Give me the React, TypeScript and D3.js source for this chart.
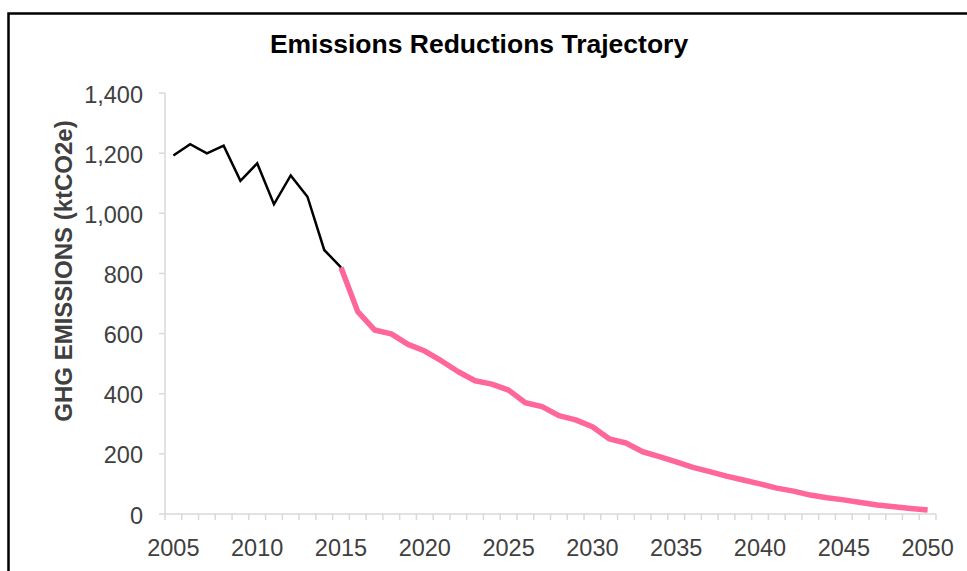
import {useEffect, useRef} from "react";
import * as d3 from "d3";

const years = d3.range(2005, 2051);

// historical emissions, 2005-2015
const historicYears = d3.range(2005, 2016);
const historicValues = [1192, 1230, 1199, 1225, 1108, 1166, 1030, 1126, 1055, 878, 820];

// projected trajectory, 2015-2050
const projectedYears = d3.range(2015, 2051);
const projectedValues = [
  820, 673, 612, 599, 564, 542, 509, 473, 443, 432,
  412, 370, 357, 327, 313, 290, 250, 236, 207, 191,
  173, 155, 141, 126, 113, 100, 86, 76, 63, 54,
  47, 38, 30, 24, 18, 13
];

const yTicks = [0, 200, 400, 600, 800, 1000, 1200, 1400];
const xTickLabels = [2005, 2010, 2015, 2020, 2025, 2030, 2035, 2040, 2045, 2050];

export default function App() {
  const ref = useRef<SVGSVGElement>(null);

  useEffect(() => {
    const svg = d3.select(ref.current);
    svg.selectAll("*").remove();

    const font = "Liberation Sans, Arial, sans-serif";
    const left = 165, right = 936, top = 93, bottom = 514;

    const x = d3.scaleBand<number>().domain(years).range([left, right]);
    const cx = (yr: number) => (x(yr) as number) + x.bandwidth() / 2;
    const y = d3.scaleLinear().domain([0, 1400]).range([bottom, top]);

    // outer frame
    svg.append("path")
      .attr("d", "M8.5,600V13.5H975")
      .attr("fill", "none")
      .attr("stroke", "#000")
      .attr("stroke-width", 2.5);

    svg.append("text")
      .attr("x", 479)
      .attr("y", 53)
      .attr("text-anchor", "middle")
      .attr("font-family", font)
      .attr("font-weight", "bold")
      .attr("font-size", 26.5)
      .attr("fill", "#000")
      .text("Emissions Reductions Trajectory");

    // y axis
    const ya = svg.append("g");
    ya.append("line")
      .attr("x1", left).attr("x2", left)
      .attr("y1", top).attr("y2", bottom)
      .attr("stroke", "#d9d9d9").attr("stroke-width", 1.5);
    ya.selectAll("line.tick").data(yTicks).join("line")
      .attr("class", "tick")
      .attr("x1", left - 6).attr("x2", left)
      .attr("y1", d => y(d)).attr("y2", d => y(d))
      .attr("stroke", "#d9d9d9").attr("stroke-width", 1.5);
    ya.selectAll("text").data(yTicks).join("text")
      .attr("x", 143)
      .attr("y", d => y(d) + 9.5)
      .attr("text-anchor", "end")
      .attr("font-family", font)
      .attr("font-size", 23.5)
      .attr("fill", "#404040")
      .text(d => d3.format(",")(d));

    // x axis
    const xa = svg.append("g");
    xa.append("line")
      .attr("x1", left).attr("x2", right)
      .attr("y1", bottom).attr("y2", bottom)
      .attr("stroke", "#d9d9d9").attr("stroke-width", 1.5);
    xa.selectAll("line.tick").data([...years, 2051]).join("line")
      .attr("class", "tick")
      .attr("x1", d => d === 2051 ? right : (x(d) as number))
      .attr("x2", d => d === 2051 ? right : (x(d) as number))
      .attr("y1", bottom).attr("y2", bottom + 6)
      .attr("stroke", "#d9d9d9").attr("stroke-width", 1.5);
    xa.selectAll("text").data(xTickLabels).join("text")
      .attr("x", d => cx(d))
      .attr("y", 556)
      .attr("text-anchor", "middle")
      .attr("font-family", font)
      .attr("font-size", 23.5)
      .attr("fill", "#404040")
      .text(d => d);

    // y title
    svg.append("text")
      .attr("transform", "translate(72,271) rotate(-90)")
      .attr("text-anchor", "middle")
      .attr("font-family", font)
      .attr("font-weight", "bold")
      .attr("font-size", 24)
      .attr("fill", "#404040")
      .text("GHG EMISSIONS (ktCO2e)");

    const line = d3.line<[number, number]>()
      .x(d => cx(d[0]))
      .y(d => y(d[1]));

    svg.append("path")
      .datum(projectedYears.map((yr, i) => [yr, projectedValues[i]] as [number, number]))
      .attr("fill", "none")
      .attr("stroke", "#ff6699")
      .attr("stroke-width", 5.5)
      .attr("stroke-linejoin", "round")
      .attr("d", line);

    svg.append("path")
      .datum(historicYears.map((yr, i) => [yr, historicValues[i]] as [number, number]))
      .attr("fill", "none")
      .attr("stroke", "#000")
      .attr("stroke-width", 2.5)
      .attr("d", line);
  }, []);

  return <svg ref={ref} width={967} height={571}
              style={{position: "absolute", left: 0, top: 0, background: "#fff"}}/>;
}
